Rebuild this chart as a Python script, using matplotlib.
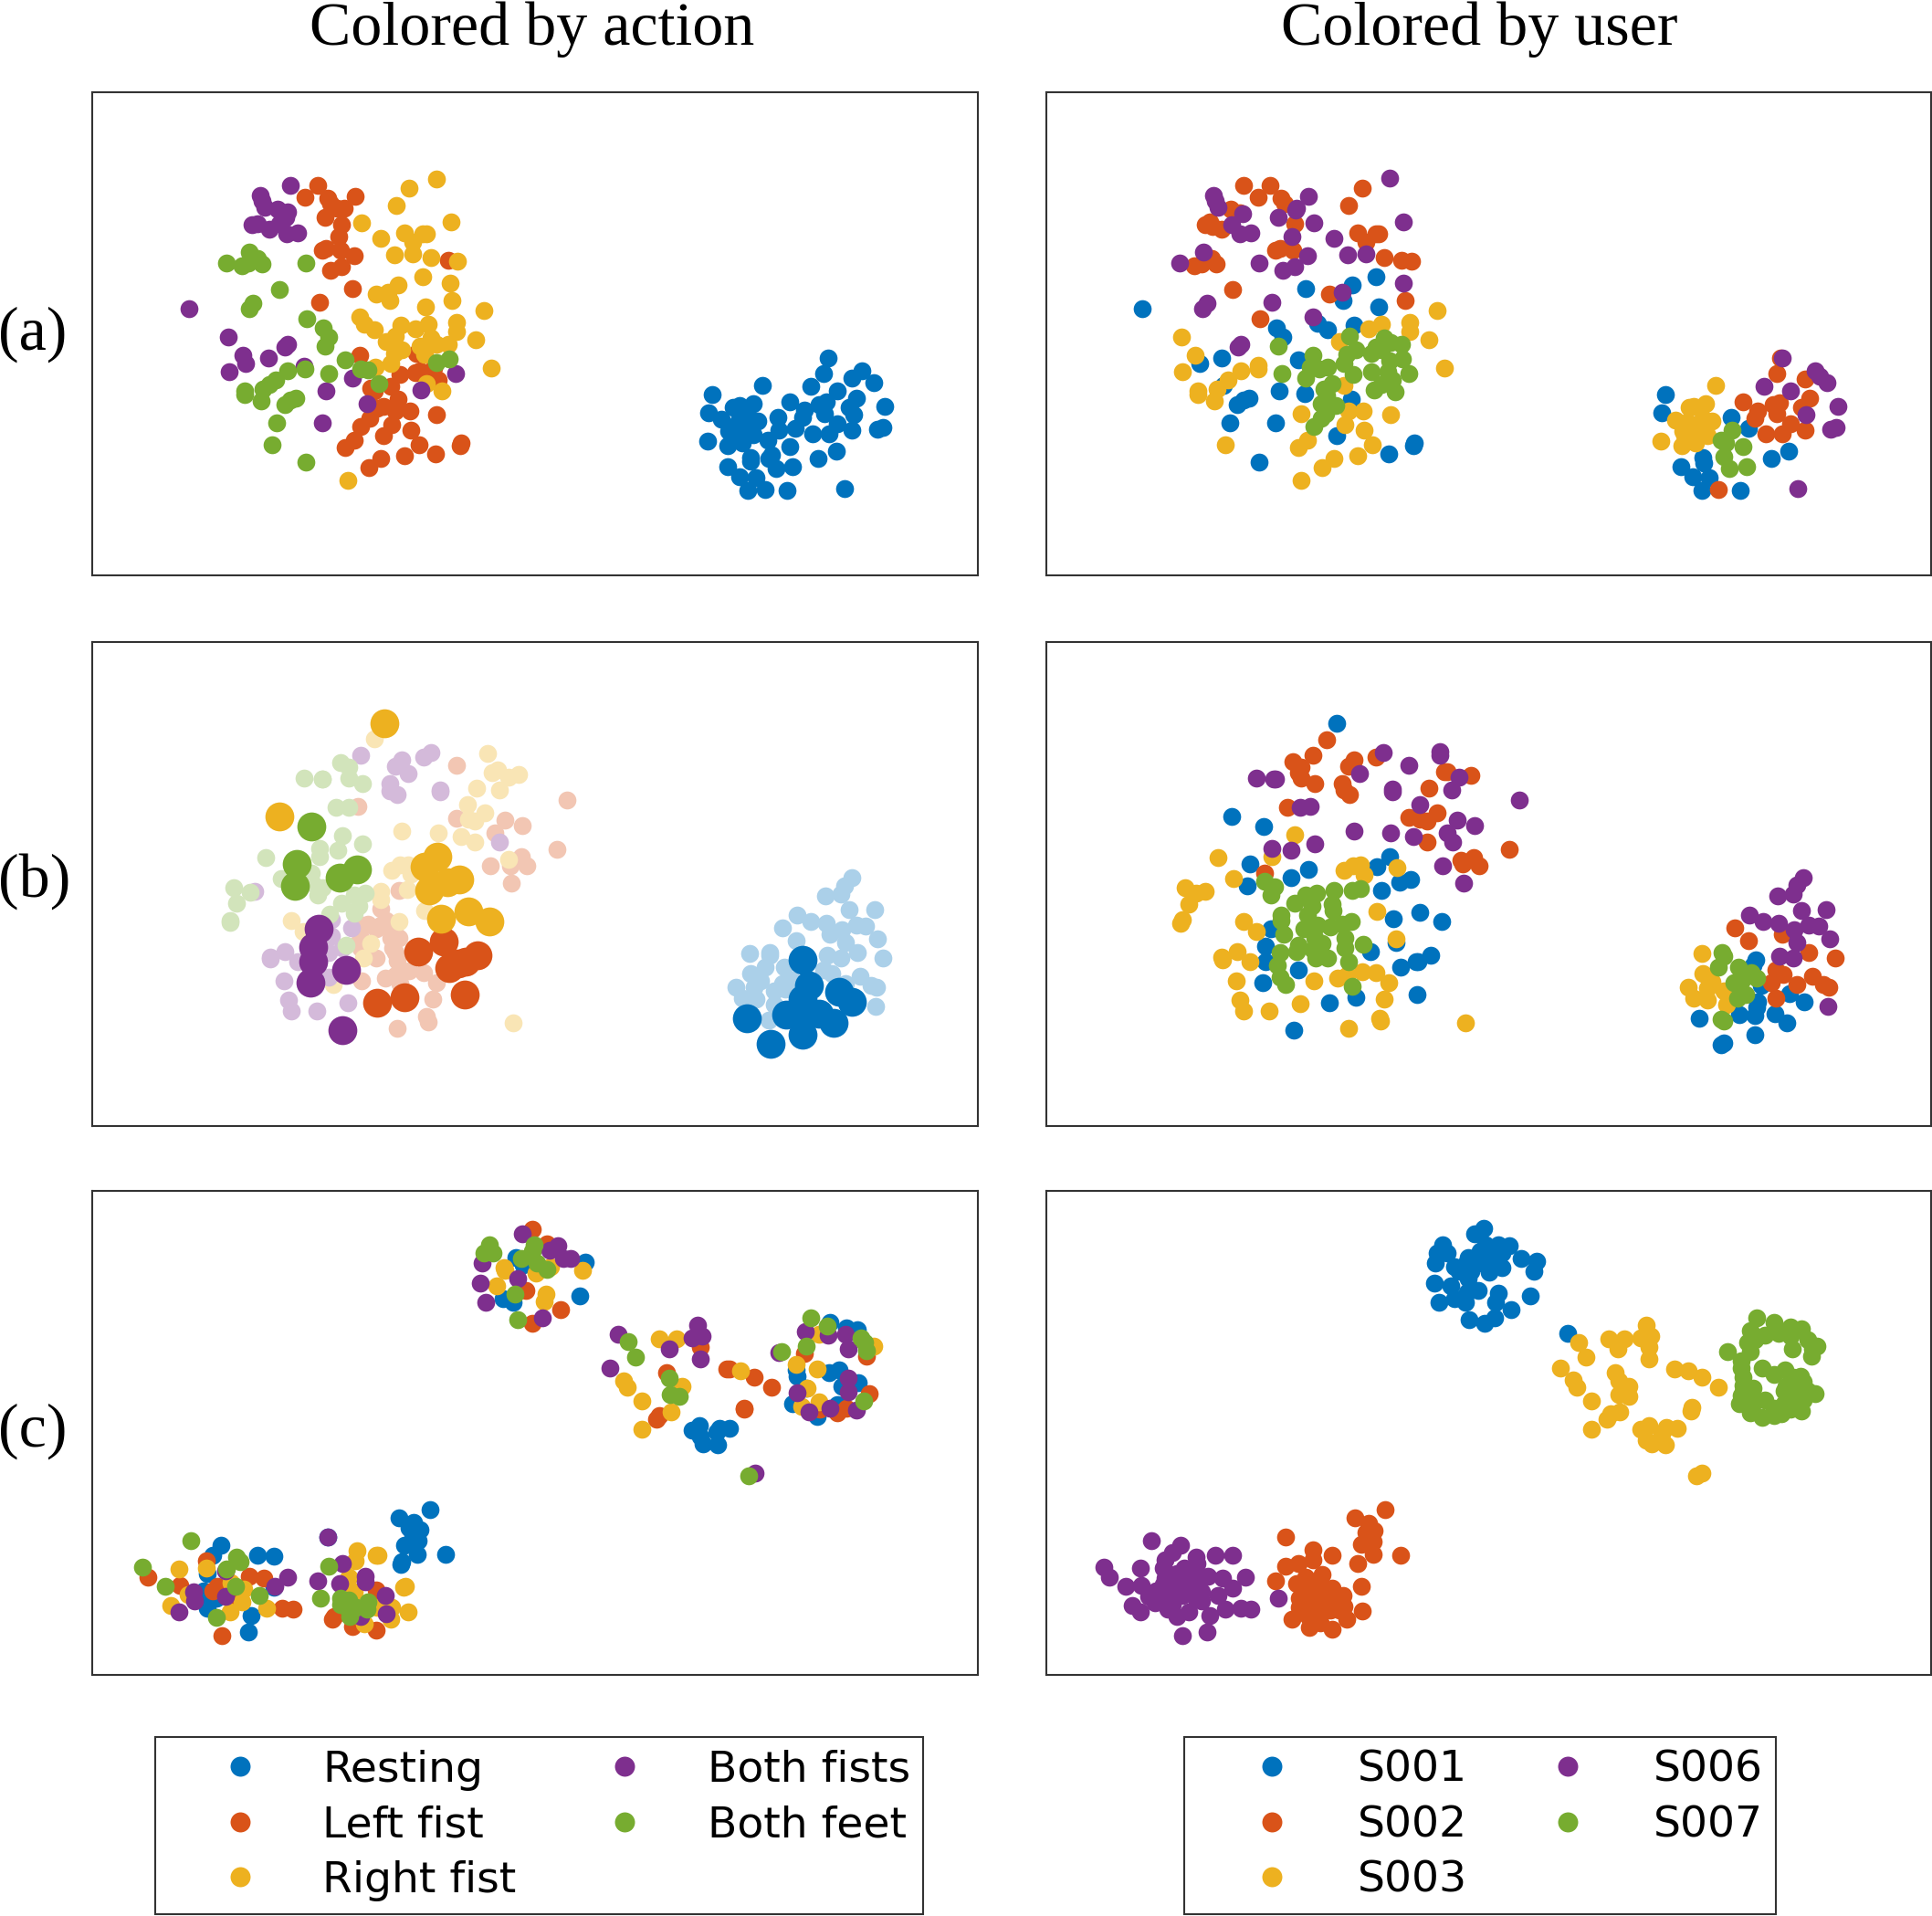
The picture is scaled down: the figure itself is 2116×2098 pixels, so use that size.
import matplotlib
matplotlib.use("Agg")
import matplotlib.pyplot as plt
from matplotlib.lines import Line2D
import numpy as np

W, H = 2116, 2098

BLUE = "#0072BD"
ORANGE = "#D95319"
YELLOW = "#EDB120"
PURPLE = "#7E2F8E"
GREEN = "#77AC30"
COLORS = [BLUE, ORANGE, YELLOW, PURPLE, GREEN]

actions = ["Resting", "Left fist", "Right fist", "Both fists", "Both feet"]
users = ["S001", "S002", "S003", "S006", "S007"]

crop_a1 = (180, 170, 3, 3)
crop_a2 = (760, 370, 3, 3)
crop_a3 = (1230, 170, 3, 3)
crop_a4 = (1800, 370, 3, 3)
crop_b1 = (220, 760, 3, 3)
crop_b2 = (780, 940, 3, 3)
crop_b3 = (1270, 770, 3, 3)
crop_b4 = (1820, 940, 3, 3)
crop_c1 = (500, 1320, 3, 3)
crop_c2 = (140, 1630, 3, 3)
crop_c3 = (1190, 1320, 1.912, 3)

# (a) coloured by action
a_act_rest = [(440,65),(425,118),(553,107),(520,133),(590,146),(384,158),(224,155),(60,186),(470,175),(535,197),(195,215),(150,222),(130,228),(316,210),(435,210),(410,220),(626,224),(48,245),(362,238),(510,228),(90,268),(275,260),(428,248),(525,252),(210,272),(150,265),(180,262),(358,262),(470,282),(115,305),(130,290),(165,295),(195,318),(140,320),(278,303),(333,298),(622,295),(603,300),(518,302),(390,316),(445,314),(243,335),(45,340),(110,354),(160,345),(315,358),(467,371),(185,392),(255,385),(185,405),(245,395),(408,396),(110,424),(325,424),(270,430),(205,458),(150,457),(178,500),(233,497),(306,502),(496,495)]
a_act_left = [(503,100),(461,139),(537,140),(545,160),(628,136),(590,175),(568,175),(528,205),(583,228),(574,267),(532,305),(518,312),(578,312),(625,329),(583,365),(545,377),(618,437),(509,484),(932,344),(643,658),(828,650),(775,720),(825,715),(840,708),(885,700),(900,738),(678,765),(745,760),(690,775),(767,800),(720,825),(700,830),(760,840),(808,840),(895,853),(675,865),(645,890),(748,885),(810,902),(720,922),(625,937),(595,960),(838,952),(975,945),(973,955),(890,981),(790,988),(711,995),(672,1027)]
a_act_right = [(894,77),(803,107),(761,165),(647,223),(941,218),(711,274),(790,255),(850,258),(860,258),(815,285),(755,328),(817,325),(877,336),(964,348),(850,398),(940,419),(769,426),(735,450),(697,456),(741,478),(944,478),(858,497),(1050,510),(642,530),(658,555),(690,573),(778,558),(825,570),(866,555),(960,550),(960,580),(1023,607),(760,595),(730,613),(780,640),(755,650),(840,628),(875,600),(860,630),(895,620),(932,622),(855,655),(744,683),(693,697),(1074,700),(862,750),(913,775),(602,1067)]
a_act_fists = [(80,503),(415,100),(316,132),(322,150),(330,172),(373,178),(405,185),(400,205),(288,228),(305,225),(345,243),(378,225),(402,258),(438,256),(210,596),(258,657),(268,683),(214,712),(341,665),(395,630),(405,620),(460,692),(617,732),(531,775),(667,815),(520,880),(842,770),(957,716)]
a_act_feet = [(203,354),(280,318),(255,363),(275,355),(305,340),(322,357),(465,355),(377,441),(292,485),(280,503),(467,538),(523,568),(540,598),(527,628),(594,671),(645,702),(668,706),(405,708),(462,703),(541,716),(365,738),(345,752),(325,768),(264,775),(264,787),(318,808),(395,820),(415,803),(432,797),(369,880),(355,950),(466,1009),(706,750),(894,680),(935,670)]

# (a) coloured by user, main cloud
a_usr_s001 = [(62,503),(599,438),(752,425),(832,398),(723,478),(840,497),(505,567),(525,598),(760,557),(640,553),(672,573),(575,671),(323,665),(251,683),(330,755),(513,775),(597,783),(750,800),(415,797),(395,805),(375,820),(351,880),(502,880),(702,921),(448,1009),(873,981),(958,945),(955,955)]
a_usr_s002 = [(397,100),(484,100),(443,139),(518,140),(530,160),(785,107),(742,165),(355,178),(385,190),(285,218),(270,228),(295,235),(325,243),(565,225),(772,255),(830,258),(840,258),(797,285),(515,305),(500,312),(558,312),(858,336),(915,344),(948,348),(290,340),(305,357),(235,363),(258,358),(359,441),(678,456),(449,538),(926,478)]
a_usr_s003 = [(192,596),(238,657),(196,712),(388,708),(443,690),(443,703),(346,738),(308,768),(246,775),(246,787),(300,808),(337,950),(710,613),(806,570),(848,555),(942,550),(942,580),(1032,510),(1005,607),(1056,700),(726,757),(740,840),(790,840),(878,853),(586,850),(730,885),(791,902),(607,937),(576,960),(820,952),(772,988),(693,995),(655,1027),(584,1067)]
a_usr_s006 = [(876,76),(297,132),(303,150),(313,170),(392,193),(358,227),(383,258),(420,256),(510,204),(610,136),(570,175),(568,180),(628,222),(556,267),(693,274),(738,328),(798,323),(607,329),(565,365),(526,377),(447,355),(263,318),(186,354),(922,218),(922,419),(720,450),(490,484),(275,485),(260,503),(625,530),(388,620),(377,630)]
a_usr_s007 = [(743,595),(858,600),(880,615),(915,622),(765,640),(735,655),(830,630),(815,650),(850,640),(918,670),(875,675),(727,683),(625,658),(509,628),(522,716),(673,696),(645,703),(615,695),(600,732),(757,720),(815,712),(870,710),(940,716),(885,738),(850,752),(825,770),(895,776),(688,750),(660,768),(670,790),(650,815),(700,822),(665,850),(650,865),(628,890)]

# (a) coloured by user, small cloud
a2_usr_s001 = [(72,186),(60,245),(288,260),(345,298),(196,392),(198,410),(123,424),(478,371),(421,396),(163,457),(215,458),(192,500),(319,502)]
a2_usr_s002 = [(450,65),(437,118),(532,135),(328,211),(375,240),(425,220),(448,212),(438,248),(545,198),(520,228),(365,265),(482,282),(403,316),(457,314),(532,302),(246,498)]
a2_usr_s003 = [(237,155),(205,215),(150,228),(165,225),(105,270),(145,275),(195,265),(225,272),(130,305),(160,300),(205,300),(125,354),(172,345),(210,320),(57,340),(180,290),(135,320)]
a2_usr_s006 = [(455,65),(396,159),(482,174),(565,107),(580,125),(603,146),(638,225),(535,252),(632,295),(615,300),(508,495)]
a2_usr_s007 = [(290,303),(255,335),(270,345),(327,358),(265,390),(282,428),(338,424)]

# (b) coloured by action: faded points
b_act_rest = [(460,63),(435,90),(422,118),(373,122),(450,168),(533,167),(279,187),(323,207),(231,229),(375,212),(388,248),(427,235),(473,218),(505,222),(275,270),(437,277),(542,265),(123,311),(190,308),(190,318),(378,318),(423,327),(476,309),(562,328),(175,357),(237,357),(125,378),(365,367),(393,378),(487,386),(160,403),(78,422),(138,422),(205,435),(230,410),(260,400),(437,410),(523,416),(540,422),(100,458),(145,462),(205,480),(240,430),(185,530),(538,486)]
b_act_left = [(840,234),(1203,348),(517,368),(840,407),(1000,414),(1057,433),(967,455),(1171,509),(1052,535),(1072,565),(1017,565),(952,565),(1021,621),(652,645),(590,705),(530,760),(590,760),(575,770),(525,800),(625,800),(650,800),(630,835),(525,835),(575,866),(645,875),(685,910),(733,916),(605,932),(640,925),(528,941),(655,950),(775,948),(761,1002),(742,1060),(748,1077),(644,1097),(550,755),(610,745),(640,790),(520,775),(515,820),(640,850)]
b_act_right = [(570,148),(941,195),(957,258),(975,250),(1010,272),(1045,265),(907,309),(982,316),(876,362),(932,390),(880,410),(900,418),(661,451),(780,456),(856,468),(900,487),(1010,544),(627,578),(655,562),(680,560),(690,590),(677,642),(590,648),(590,675),(735,712),(297,745),(650,748),(335,780),(557,818),(535,867),(434,955),(1025,1080)]
b_act_fists = [(526,200),(660,216),(640,238),(680,262),(757,192),(732,208),(620,293),(622,317),(646,330),(787,316),(787,322),(982,485),(178,648),(430,740),(495,767),(430,795),(420,850),(228,865),(228,870),(275,845),(318,878),(420,930),(273,942),(287,1005),(298,1040),(381,1042),(484,1015),(465,835)]
b_act_feet = [(339,276),(398,278),(400,278),(460,224),(487,240),(487,275),(530,294),(443,373),(485,372),(464,464),(532,493),(390,507),(450,514),(390,533),(212,537),(363,587),(265,607),(107,637),(162,650),(118,688),(95,745),(95,750),(385,660),(400,635),(365,620),(462,686),(505,660),(540,655),(520,697),(505,720),(422,723),(477,825)]

# (b) coloured by action: highlighted points
b_big_rest = [(298,332),(318,418),(298,463),(115,525),(243,512),(298,510),(350,510),(417,438),(458,470),(400,540),(297,580),(191,609)]
b_big_left = [(798,813),(713,845),(910,858),(870,878),(845,885),(815,900),(670,997),(580,1013),(867,987)]
b_big_right = [(603,97),(258,402),(778,534),(735,568),(848,609),(810,617),(750,645),(878,715),(948,747),(790,738)]
b_big_fists = [(387,771),(369,830),(370,878),(361,948),(477,905),(464,1105)]
b_big_feet = [(362,435),(316,557),(310,630),(512,575),(456,604)]

# (b) coloured by user, main cloud
b_usr_s001 = [(582,67),(237,371),(341,406),(757,503),(296,527),(713,538),(490,545),(433,574),(288,599),(790,588),(826,579),(728,615),(855,686),(768,708),(927,716),(367,740),(348,797),(777,785),(693,815),(349,848),(455,875),(890,828),(850,850),(842,850),(792,868),(339,917),(646,965),(847,957),(559,983),(442,1075)]
b_usr_s002 = [(549,119),(505,171),(437,193),(465,210),(455,228),(465,245),(509,265),(638,185),(620,208),(710,178),(600,263),(605,285),(625,300),(421,343),(945,225),(935,225),(1024,236),(886,279),(911,361),(820,376),(855,380),(878,388),(879,456),(344,558),(1149,479),(990,515),(1033,507),(1050,535),(995,528)]
b_usr_s003 = [(444,433),(191,507),(369,505),(242,577),(85,607),(150,618),(120,625),(97,659),(75,712),(70,722),(605,549),(635,533),(660,530),(673,563),(781,541),(714,684),(276,716),(317,749),(778,773),(255,815),(203,834),(208,842),(297,849),(252,912),(507,911),(585,902),(615,895),(665,881),(712,885),(753,918),(265,975),(277,1011),(360,1012),(463,986),(739,972),(723,1035),(727,1045),(622,1068),(1004,1050)]
b_usr_s006 = [(736,162),(318,246),(375,248),(380,248),(658,232),(819,203),(921,158),(920,170),(983,243),(960,286),(765,283),(765,292),(855,333),(1183,317),(495,338),(462,342),(979,384),(1036,402),(945,426),(962,457),(835,437),(759,427),(640,420),(511,463),(431,484),(369,477),(931,535),(1000,591)]
b_usr_s007 = [(344,585),(378,603),(365,630),(480,630),(515,625),(572,615),(445,657),(500,665),(568,660),(570,680),(400,695),(485,695),(632,615),(660,610),(400,715),(630,718),(475,740),(520,730),(560,735),(600,725),(408,760),(510,770),(610,770),(535,790),(457,795),(670,792),(450,815),(397,820),(505,810),(610,805),(552,836),(513,838),(622,848),(387,860),(395,900),(413,925),(633,930)]

# (b) coloured by user, small cloud
b2_usr_s001 = [(308,332),(300,350),(327,418),(420,443),(467,471),(315,470),(313,490),(255,512),(306,517),(372,511),(123,525),(410,540),(305,580),(205,605),(195,612)]
b2_usr_s002 = [(240,229),(285,271),(397,250),(484,309),(571,327),(375,365),(400,382),(360,408),(445,413),(376,460),(496,386),(530,415),(548,422)]
b2_usr_s003 = [(133,311),(135,378),(165,405),(87,422),(150,425),(205,435),(105,460),(150,465),(213,480)]
b2_usr_s006 = [(465,63),(445,88),(432,118),(381,122),(459,170),(541,167),(289,187),(333,207),(384,214),(436,235),(482,218),(515,222),(445,277),(552,265),(388,320),(432,327),(547,486)]
b2_usr_s007 = [(198,308),(205,320),(185,356),(252,357),(295,375),(313,393),(237,408),(265,400),(275,447),(248,458),(195,528),(205,535)]

# (c) coloured by action, upper clusters
c_act_rest = [(424,185),(195,172),(218,195),(153,305),(185,318),(404,296),(1228,385),(1280,402),(1317,408),(1115,540),(1118,562),(1225,550),(1258,540),(1320,582),(1265,595),(1250,655),(1105,652),(1185,692),(797,722),(775,737),(863,732),(898,732),(800,760),(855,745),(810,783),(858,785),(1150,600)]
c_act_left = [(250,77),(298,125),(228,280),(342,343),(248,386),(1143,487),(1348,495),(800,465),(690,550),(665,690),(658,703),(888,537),(897,537),(978,565),(1036,598),(945,665),(945,670),(1356,618),(1280,665),(1250,682),(1195,670)]
c_act_right = [(155,205),(160,212),(415,214),(133,264),(262,222),(310,200),(295,290),(287,316),(1190,422),(665,437),(723,437),(550,575),(560,598),(740,595),(608,643),(705,678),(608,736),(933,544),(1117,523),(1185,537),(1372,463),(1152,600),(1135,660),(1190,645)]
c_act_fists = [(215,92),(333,132),(305,147),(350,175),(375,175),(84,190),(200,240),(78,254),(97,317),(282,368),(530,422),(505,535),(793,392),(775,435),(807,428),(700,470),(802,504),(1145,415),(1220,425),(1278,422),(1287,470),(1288,567),(1287,612),(1120,615),(1315,672),(1227,667),(1157,678),(980,880),(1060,483)]
c_act_feet = [(108,130),(90,155),(120,157),(255,130),(250,150),(212,175),(265,190),(297,210),(192,290),(200,375),(565,448),(589,498),(700,567),(702,620),(733,628),(1165,370),(1217,395),(1328,435),(1342,450),(1347,478),(1150,463),(1068,480),(1338,642),(960,888)]

# (c) coloured by action, lower clusters
c2_act_rest = [(305,185),(280,220),(425,218),(480,223),(262,280),(250,335),(265,350),(290,360),(260,393),(404,417),(395,470),(480,325),(890,96),(940,112),(925,130),(960,135),(935,150),(910,185),(955,170),(950,215),(900,240),(898,250),(994,70),(1045,217),(658,160)]
c2_act_left = [(67,290),(258,237),(172,318),(398,288),(448,295),(295,320),(278,335),(508,393),(543,395),(350,360),(308,484),(815,332),(678,420),(672,430),(738,453),(817,464)]
c2_act_right = [(168,263),(258,262),(197,347),(140,385),(380,330),(375,373),(335,405),(455,393),(340,310),(752,203),(748,237),(815,218),(822,220),(725,292),(745,340),(912,322),(905,325),(868,390),(820,390),(863,430),(778,443),(920,405)]
c2_act_fists = [(320,270),(525,290),(482,320),(217,340),(220,368),(320,354),(167,405),(624,303),(658,160),(706,246),(695,313),(781,287),(781,305),(846,352),(850,410),(765,420)]
c2_act_feet = [(206,170),(48,258),(122,320),(358,225),(368,240),(323,264),(355,320),(433,352),(292,423),(660,256),(634,360),(700,360),(725,365),(700,380),(725,400),(790,372),(785,395),(750,390),(730,420)]

# (c) coloured by user
c_usr_s001 = [(832,75),(812,92),(745,128),(735,155),(755,157),(730,190),(770,200),(780,215),(800,170),(835,130),(862,128),(885,132),(850,150),(870,155),(910,175),(943,183),(937,215),(820,190),(845,190),(870,205),(843,220),(800,240),(728,254),(762,264),(820,280),(797,285),(862,287),(770,305),(793,318),(738,317),(857,318),(930,296),(890,343),(802,375),(855,368),(833,386),(1008,421),(825,150),(830,170),(795,190),(805,215)]
c_usr_s002 = [(625,998),(562,1025),(590,1045),(603,1068),(585,1075),(600,1105),(575,1112),(600,1145),(657,1148),(567,1175),(417,1090),(475,1130),(515,1148),(475,1165),(443,1175),(417,1185),(395,1233),(440,1243),(493,1213),(458,1222),(575,1252),(515,1257),(537,1280),(480,1270),(445,1290),(500,1300),(465,1315),(540,1318),(578,1333),(430,1360),(460,1340),(545,1360),(490,1370),(467,1385),(515,1393),(510,1330),(450,1250),(470,1240),(490,1245),(510,1285),(455,1270),(480,1295),(520,1310),(445,1320),(485,1330),(465,1350),(530,1330),(490,1345)]
c_usr_s003 = [(1030,449),(1093,437),(1127,437),(1172,392),(1160,435),(1182,428),(1177,465),(1113,472),(1178,505),(1045,498),(992,535),(1020,573),(1027,598),(1108,548),(1115,575),(1135,595),(1115,620),(1135,628),(1057,643),(1117,678),(1097,683),(1090,703),(1057,736),(1232,537),(1260,543),(1288,565),(1323,598),(1268,662),(1265,675),(1160,735),(1177,722),(1215,728),(1238,733),(1172,770),(1183,783),(1213,785),(1205,750),(1278,888),(1288,880)]
c_usr_s006 = [(135,1100),(197,1115),(180,1140),(230,1155),(270,1148),(305,1150),(165,1165),(37,1187),(112,1192),(48,1220),(232,1175),(205,1190),(170,1210),(255,1218),(285,1225),(333,1220),(205,1230),(82,1250),(115,1247),(305,1257),(145,1265),(175,1265),(215,1265),(275,1280),(130,1285),(180,1290),(240,1300),(95,1313),(143,1305),(170,1325),(215,1335),(290,1325),(323,1323),(345,1325),(112,1335),(190,1350),(258,1347),(253,1400),(200,1413),(401,1290),(160,1190),(190,1210),(225,1245),(160,1245),(190,1250),(200,1280),(160,1285),(225,1285),(150,1280),(180,1310),(240,1270),(165,1225),(230,1215)]
c_usr_s007 = [(1403,370),(1440,385),(1475,400),(1390,412),(1497,405),(1420,425),(1530,462),(1478,470),(1518,495),(1342,480),(1390,480),(1370,535),(1415,535),(1462,540),(1440,555),(1375,565),(1395,600),(1375,612),(1480,565),(1500,580),(1465,595),(1525,618),(1500,640),(1367,650),(1420,640),(1460,650),(1390,680),(1415,695),(1455,685),(1497,675),(1440,665),(1400,440),(1385,450),(1450,420),(1475,430),(1510,440),(1370,510),(1375,590),(1370,625),(1395,650),(1440,690),(1475,670),(1510,610),(1490,620),(1495,560),(1480,610),(1460,610),(1520,470)]

# frames of the panels in image pixels
LEFT = (101, 1071)
RIGHT = (1146, 2115)
ROWS = [(101, 630), (703, 1233), (1304, 1834)]

SMALL = 200
BIG = 520


def faded(color, a=0.33):
    rgb = np.array(matplotlib.colors.to_rgb(color))
    return tuple(a * rgb + (1 - a))


def read(points, crop):
    x0, y0, sx, sy = crop
    pts = np.array(points, dtype=float)
    return x0 + pts[:, 0] / sx, y0 + pts[:, 1] / sy


def panel(xr, yr):
    ax = fig.add_axes([xr[0] / W, 1 - yr[1] / H, (xr[1] - xr[0]) / W, (yr[1] - yr[0]) / H])
    ax.set_xlim(xr)
    ax.set_ylim(yr[1], yr[0])
    ax.set_xticks([])
    ax.set_yticks([])
    for s in ax.spines.values():
        s.set_linewidth(1.5)
        s.set_color("#333333")
    return ax


def dots(ax, groups, crop, colors=COLORS, size=SMALL):
    for points, color in zip(groups, colors):
        x, y = read(points, crop)
        ax.scatter(x, y, s=size, c=[color], linewidths=0)


fig = plt.figure(figsize=(W / 100, H / 100), dpi=100)

ax = panel(LEFT, ROWS[0])
dots(ax, [a_act_left, a_act_right, a_act_fists, a_act_feet], crop_a1, COLORS[1:])
dots(ax, [a_act_rest], crop_a2)

ax = panel(RIGHT, ROWS[0])
dots(ax, [a_usr_s001, a_usr_s002, a_usr_s003, a_usr_s006, a_usr_s007], crop_a3)
dots(ax, [a2_usr_s001, a2_usr_s002, a2_usr_s003, a2_usr_s006, a2_usr_s007], crop_a4)

ax = panel(LEFT, ROWS[1])
light = [faded(c) for c in COLORS]
dots(ax, [b_act_rest], crop_b2, light)
dots(ax, [b_act_left, b_act_right, b_act_fists, b_act_feet], crop_b1, light[1:])
dots(ax, [b_big_rest], crop_b2, size=BIG)
dots(ax, [b_big_left, b_big_right], crop_b1, COLORS[1:], size=BIG)
dots(ax, [b_big_fists, b_big_feet], crop_b1, COLORS[3:], size=BIG)

ax = panel(RIGHT, ROWS[1])
dots(ax, [b_usr_s001, b_usr_s002, b_usr_s003, b_usr_s006, b_usr_s007], crop_b3)
dots(ax, [b2_usr_s001, b2_usr_s002, b2_usr_s003, b2_usr_s006, b2_usr_s007], crop_b4)

ax = panel(LEFT, ROWS[2])
dots(ax, [c_act_rest, c_act_left, c_act_right, c_act_fists, c_act_feet], crop_c1)
dots(ax, [c2_act_rest, c2_act_left, c2_act_right, c2_act_fists, c2_act_feet], crop_c2)

ax = panel(RIGHT, ROWS[2])
dots(ax, [c_usr_s001, c_usr_s002, c_usr_s003, c_usr_s006, c_usr_s007], crop_c3)

serif = "Liberation Serif"
fig.text(583 / W, 1 - 49 / H, "Colored by action", family=serif, fontsize=49, ha="center", va="baseline")
fig.text(1620 / W, 1 - 49 / H, "Colored by user", family=serif, fontsize=49, ha="center", va="baseline")
for label, yc in zip(["(a)", "(b)", "(c)"], [366, 965, 1567]):
    fig.text(-2 / W, 1 - yc / H, label, family=serif, fontsize=49, ha="left", va="center")


def add_legend(labels, x0, colspace, hlen, hpad):
    handles = [Line2D([], [], ls="none", marker="o", ms=15.8, mew=0, color=c) for c in COLORS]
    leg = fig.legend(handles, labels, ncol=2, loc="lower left", bbox_to_anchor=(x0 / W, 1 - 2096 / H),
                     fontsize=34, fancybox=False, framealpha=1, edgecolor="#333333",
                     borderpad=0.30, borderaxespad=0, handlelength=hlen, handletextpad=hpad,
                     columnspacing=colspace, labelspacing=0.33)
    leg.get_frame().set_linewidth(1.5)


add_legend(actions, 170, 0.85, 3.34, 0.24)
add_legend(users, 1297, 0.60, 3.45, 0.27)

fig.savefig("out.png", dpi=100)
